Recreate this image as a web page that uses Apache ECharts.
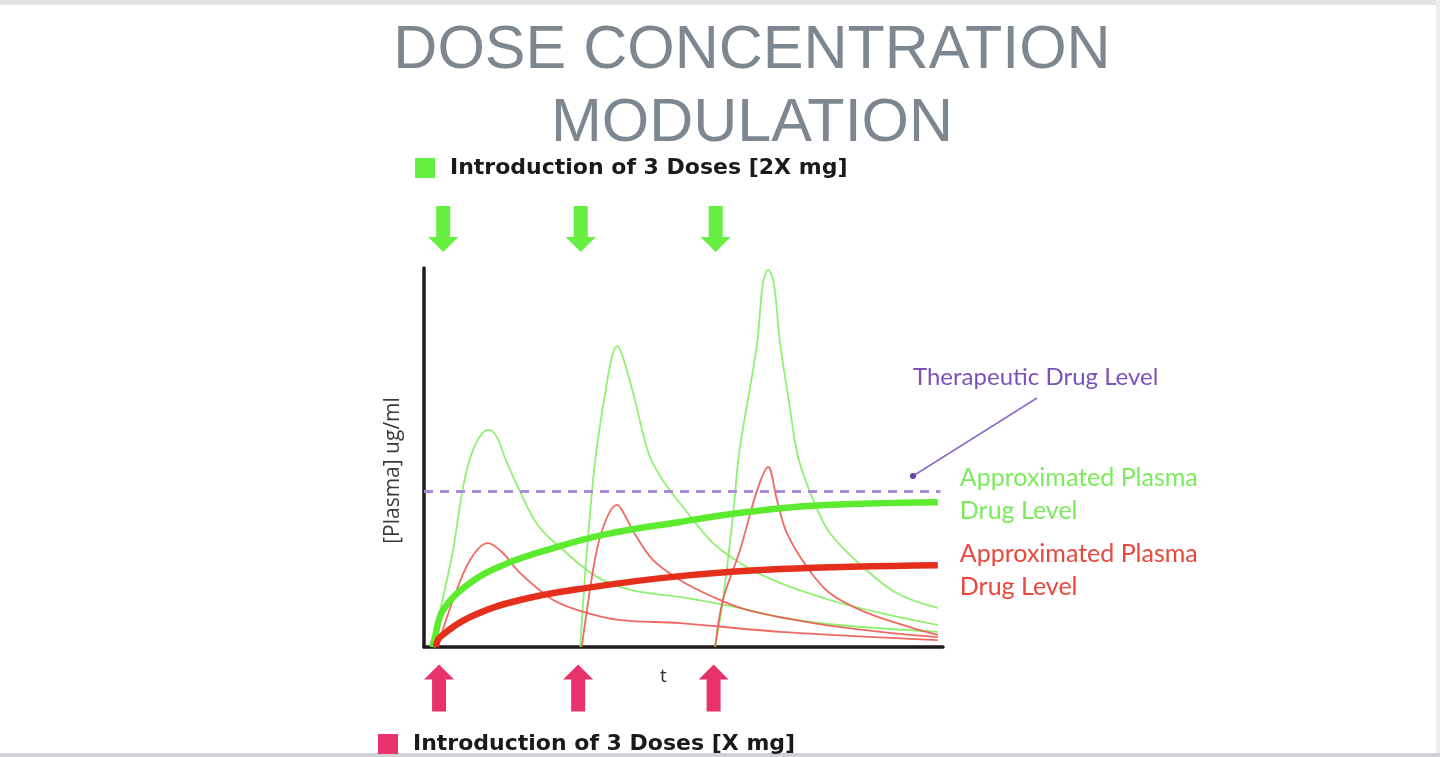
<!DOCTYPE html>
<html>
<head>
<meta charset="utf-8">
<script src="https://cdn.jsdelivr.net/npm/echarts@6/dist/echarts.min.js"></script>
<style>
html,body{margin:0;padding:0;background:#fff;}
#chart{width:1440px;height:757px;}
</style>
</head>
<body>
<div id="chart"></div>
<script>
// ---- data (time units 0..100, concentration units 0..100) ----
const titleLines = ['DOSE CONCENTRATION', 'MODULATION'];
const legendHigh = 'Introduction of 3 Doses [2X mg]';
const legendLow = 'Introduction of 3 Doses [X mg]';
const yAxisName = '[Plasma] ug/ml';
const xAxisName = 't';
const therapeuticLabel = 'Therapeutic Drug Level';
const approxLabel = 'Approximated Plasma\nDrug Level';

const arrowHighX = [3.7, 30.2, 56.2];
const arrowLowX = [2.9, 29.7, 55.8];

const greenDose1 = [[1.5,0],[3.5,12],[5.6,25.6],[7.5,42],[9.1,50.7],[11,56],[12.5,57.3],[14,55.5],[15.6,49.9],[18.5,41.0],[22,32],[26.8,25.6],[33.3,18.5],[40,15],[49.3,13.2],[60,10.5],[68.6,7.9],[80,5.8],[99,4.0]];
const greenDose2 = [[30.1,0],[31.4,25.6],[33,49.3],[34.9,67],[36.3,77],[37.2,79.4],[38.2,77],[40.3,67],[43.3,51],[46,44],[49.3,38],[55.7,27.4],[62.2,21.1],[68.6,16.9],[78.2,12.4],[87.9,9.0],[99,5.8]];
const greenDose3 = [[56.1,0],[57.6,12.4],[59.5,34.3],[60.7,51],[62.5,66],[64.2,80.2],[65.3,96],[66.3,99.5],[67.4,96],[68.6,80.2],[70.3,65],[72.1,50],[75,38.8],[78.2,30.1],[84.6,21.1],[91.1,14.2],[99,10.3]];
const redDose1 = [[1.9,0],[2.7,1.1],[5.6,12.4],[8.9,23],[12.3,27.4],[15.2,24.8],[18.5,19.5],[24.9,12.4],[31.4,9.0],[37.8,7.1],[49.3,6.3],[68.6,4.0],[99,1.8]];
const redDose2 = [[30.4,0],[31.4,9.8],[33.3,25.6],[35.3,34.3],[37.2,37.5],[38.8,34.5],[40.5,30.1],[44.1,23],[49.3,17.7],[55.7,13.2],[62.2,9.8],[75,6.3],[87.9,4.0],[99,2.6]];
const redDose3 = [[56.1,0],[57.6,12.4],[60.9,25.6],[64.2,41.4],[66.3,47.5],[68,38.8],[69.9,30.1],[73.8,21.1],[78.2,14.2],[85.4,9.0],[94.2,5.0],[99,3.2]];
const greenApprox = [[1.6,0],[2,2],[3.7,9.8],[8.9,16.9],[15.2,21.6],[24.9,26.1],[34.5,29.6],[49.3,33.0],[62.2,35.6],[75,37.3],[99,38.2]];
const redApprox = [[2.3,0],[3.1,2.6],[8.9,7.9],[18.5,12.4],[31.4,15.6],[49.3,18.7],[68.6,20.6],[99,21.6]];
const therapeuticLevel = [[0,41],[99.5,41]];

// ---- styles ----
const thinGreen = '#84EE62';
const thinRed = '#EC5A52';
const thickGreen = '#5DEB2F';
const thickRed = '#E52F1D';
const arrowGreen = '#66EF40';
const arrowPink = '#E8336A';

const downArrow = 'path://M8,0 L22,0 L22,31 L30,31 L15,46 L0,31 L8,31 Z';
const upArrow = 'path://M15,0 L30,15 L22,15 L22,47 L8,47 L8,15 L0,15 Z';

function thin(data, color){
  return {type:'line', data, smooth:0.35, showSymbol:false, symbol:'none', silent:true,
    lineStyle:{color, width:1.8, opacity:0.9}, z:2};
}

const legendText = {fontFamily:'"DejaVu Sans"', fontWeight:'bold', fontSize:22, color:'#1a1a1a', padding:[0,0,0,10]};

const chart = echarts.init(document.getElementById('chart'), null, {renderer:'canvas'});
chart.setOption({
  animation:false,
  backgroundColor:'#ffffff',
  title:{
    text: titleLines.join('\n'),
    left:747, top:10, textAlign:'center',
    textStyle:{fontFamily:'"Liberation Sans",Arial', fontWeight:'normal', fontSize:61, lineHeight:73, color:'#7E878F'}
  },
  legend:[
    {data:[legendHigh], left:415, top:157, padding:0, icon:'rect', itemWidth:20, itemHeight:20, textStyle:legendText},
    {data:[legendLow], left:378, top:733, padding:0, icon:'rect', itemWidth:20, itemHeight:20, textStyle:legendText}
  ],
  grid:{left:424, right:497, top:268, bottom:110, containLabel:false},
  xAxis:{type:'value', min:0, max:100, name:xAxisName, nameLocation:'middle', nameGap:20,
    nameTextStyle:{fontFamily:'"Open Sans"', fontSize:19, color:'#333', padding:[0,40,0,0]},
    axisLine:{show:true, onZero:false, lineStyle:{color:'#1c1c1c', width:3.5}},
    axisTick:{show:false}, axisLabel:{show:false}, splitLine:{show:false}},
  yAxis:{type:'value', min:0, max:100, name:yAxisName, nameLocation:'middle', nameGap:20, nameRotate:90,
    nameTextStyle:{fontFamily:'"Open Sans"', fontSize:21, color:'#3a3a3a', padding:[0,0,0,-26]},
    axisLine:{show:true, onZero:false, lineStyle:{color:'#1c1c1c', width:3.5}},
    axisTick:{show:false}, axisLabel:{show:false}, splitLine:{show:false}},
  series:[
    thin(greenDose1, thinGreen),
    thin(greenDose2, thinGreen),
    thin(greenDose3, thinGreen),
    thin(redDose1, thinRed),
    thin(redDose2, thinRed),
    thin(redDose3, thinRed),
    {type:'line', data:greenApprox, smooth:0.4, symbol:'none', silent:true, z:4,
     lineStyle:{color:thickGreen, width:6.5},
     endLabel:{show:true, formatter:approxLabel, distance:22, offset:[0,-8], color:'#7AEB5A',
       fontFamily:'Lato', fontSize:25, lineHeight:33, align:'left'}},
    {type:'line', data:redApprox, smooth:0.4, symbol:'none', silent:true, z:4,
     lineStyle:{color:thickRed, width:6.5},
     endLabel:{show:true, formatter:approxLabel, distance:22, offset:[0,5], color:'#E8473C',
       fontFamily:'Lato', fontSize:25, lineHeight:33, align:'left'}},
    {type:'line', data:therapeuticLevel, symbol:'none', silent:true, z:5,
     lineStyle:{color:'#A88CD8', width:3, type:[9,7]}},
    {name:legendHigh, type:'scatter', clip:false, z:6, symbol:downArrow, symbolSize:[30,46], symbolOffset:[0,-39],
     itemStyle:{color:arrowGreen, opacity:1}, data:arrowHighX.map(x=>[x,100])},
    {name:legendLow, type:'scatter', clip:false, z:6, symbol:upArrow, symbolSize:[30,47], symbolOffset:[0,41],
     itemStyle:{color:arrowPink, opacity:1}, data:arrowLowX.map(x=>[x,0])}
  ],
  graphic:[
    {type:'rect', shape:{x:0,y:0,width:1440,height:5}, style:{fill:'#e1e2e4'}, silent:true},
    {type:'rect', shape:{x:1436,y:0,width:4,height:757}, style:{fill:'#ececee'}, silent:true},
    {type:'rect', shape:{x:0,y:753,width:1440,height:4}, style:{fill:'#cfd1d4'}, silent:true},
    {type:'text', left:913, top:365, style:{text:therapeuticLabel, fill:'#7B52B5', font:'24px Lato'}},
    {type:'line', shape:{x1:1037, y1:398, x2:913, y2:476}, style:{stroke:'#8C6CC8', lineWidth:1.5}},
    {type:'circle', shape:{cx:913, cy:476, r:3}, style:{fill:'#6A44A8'}}
  ]
});
</script>
</body>
</html>
